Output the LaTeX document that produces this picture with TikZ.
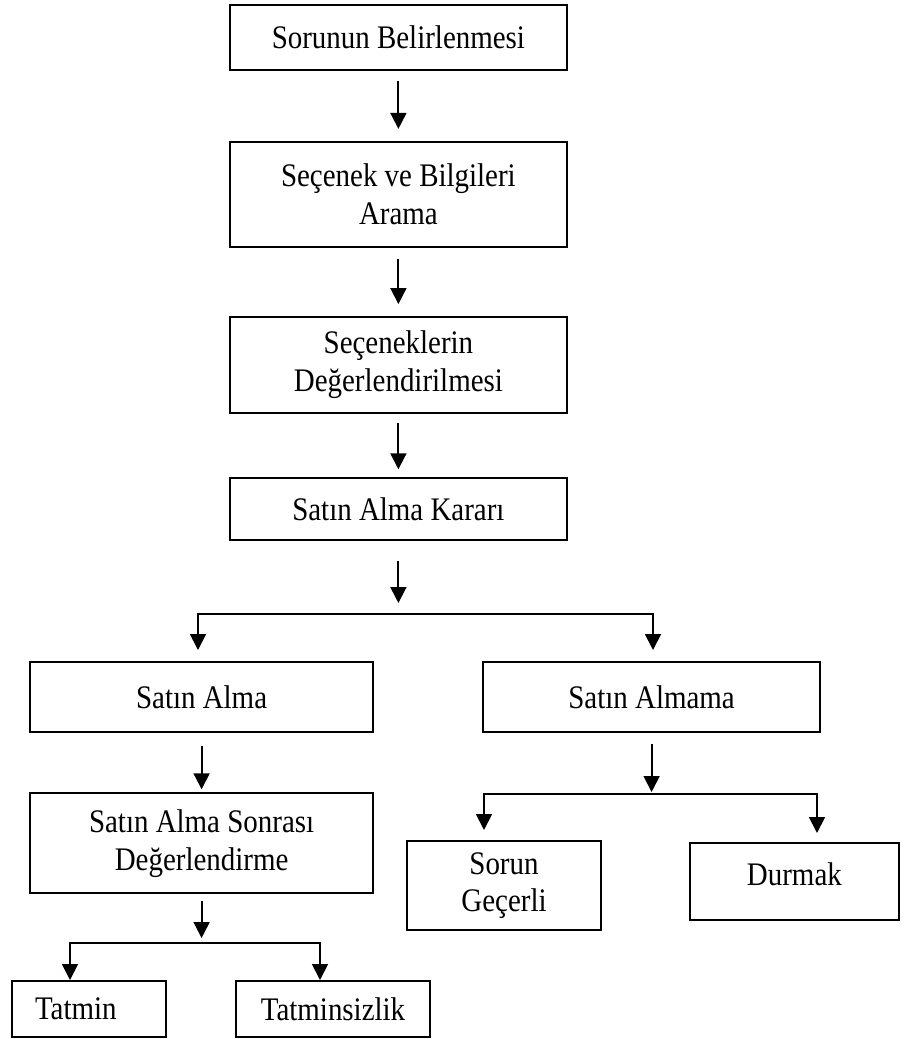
\documentclass[tikz,border=0pt]{standalone}
\usepackage{fontspec}
\setmainfont{Liberation Serif}[FakeStretch=0.88]
\usetikzlibrary{arrows.meta, positioning, calc}
\tikzset{
    stepBox/.style={draw, rectangle, line width=1.3pt, align=center, inner sep=2pt,
        font=\fontsize{23.4}{27}\selectfont},
    flowArr/.style={line width=1.3pt, -{Triangle[width=0.4cm,length=0.4cm]}},
    flowArrs/.style={line width=1.3pt,
        {Triangle[width=0.4cm,length=0.4cm]}-{Triangle[width=0.4cm,length=0.4cm]}}
}

\begin{document}
\begin{tikzpicture}
    \def \W {8.43cm}
    \def \Wl {8.58cm}
    \useasboundingbox (0,0) rectangle (22.6,-25.975);
    % main column
    \node[stepBox, minimum width=\W, minimum height=1.63cm] (sorun) at (9.96,-0.94) {Sorunun Belirlenmesi};
    \node[stepBox, minimum width=\W, minimum height=2.63cm] (arama) at (9.96,-4.86) {Seçenek ve Bilgileri\\Arama};
    \node[stepBox, minimum width=\W, minimum height=2.4cm] (deger) at (9.96,-9.125) {Seçeneklerin\\Değerlendirilmesi};
    \node[stepBox, minimum width=\W, minimum height=1.55cm] (karar) at (9.96,-12.73) {Satın Alma Kararı};
    % two branches
    \node[stepBox, minimum width=\Wl, minimum height=1.75cm] (alma) at (5.04,-17.43) {Satın Alma};
    \node[stepBox, minimum width=\W, minimum height=1.75cm] (almama) at (16.29,-17.43) {Satın Almama};
    \node[stepBox, minimum width=\Wl, minimum height=2.5cm] (sonra) at (5.04,-21.08) {Satın Alma Sonrası\\Değerlendirme};
    \node[stepBox, text width=2.7cm, align=left, inner xsep=0.575cm, minimum height=1.4cm] (tatmin) at (2.225,-25.23) {Tatmin};
    \node[stepBox, minimum width=4.85cm, minimum height=1.4cm] (tatsiz) at (8.325,-25.23) {Tatminsizlik};
    \node[stepBox, minimum width=4.85cm, minimum height=2.23cm] (gecerli) at (12.6,-22.14) {Sorun\\Geçerli};
    \node[stepBox, minimum width=5.23cm, minimum height=1.93cm, text depth=0.4cm] (durmak) at (19.86,-22.04) {Durmak};
    % junctions
    \coordinate (k1) at (9.96,-15.075);
    \coordinate (k2) at (9.96,-15.35);
    \coordinate (kl) at (4.95,-16.25);
    \coordinate (kr) at (16.325,-16.25);
    \coordinate (s1) at (5.04,-23.45);
    \coordinate (s2) at (5.04,-23.575);
    \coordinate (sl) at (1.75,-24.5);
    \coordinate (sr) at (8.0,-24.5);
    \coordinate (m1) at (16.29,-19.8);
    \coordinate (m2) at (16.29,-19.85);
    \coordinate (ml) at (12.1,-20.75);
    \coordinate (mr) at (20.425,-20.825);
    % arrows
    \draw[flowArr, shorten <=0.25cm, shorten >=0.3cm] (sorun) -- (arama);
    \draw[flowArr, shorten <=0.275cm, shorten >=0.3cm] (arama) -- (deger);
    \draw[flowArr, shorten <=0.225cm, shorten >=0.2cm] (deger) -- (karar);
    \draw[flowArr, shorten <=0.5cm] (karar) -- (k1);
    \draw[flowArrs] (kl) |- (k2) -| (kr);
    \draw[flowArr, shorten <=0.325cm, shorten >=0.075cm] (alma) -- (sonra);
    \draw[flowArr, shorten <=0.175cm] (sonra) -- (s1);
    \draw[flowArrs] (sl) |- (s2) -| (sr);
    \draw[flowArr, shorten <=0.275cm] (almama) -- (m1);
    \draw[flowArrs] (ml) |- (m2) -| (mr);
\end{tikzpicture}
\end{document}
